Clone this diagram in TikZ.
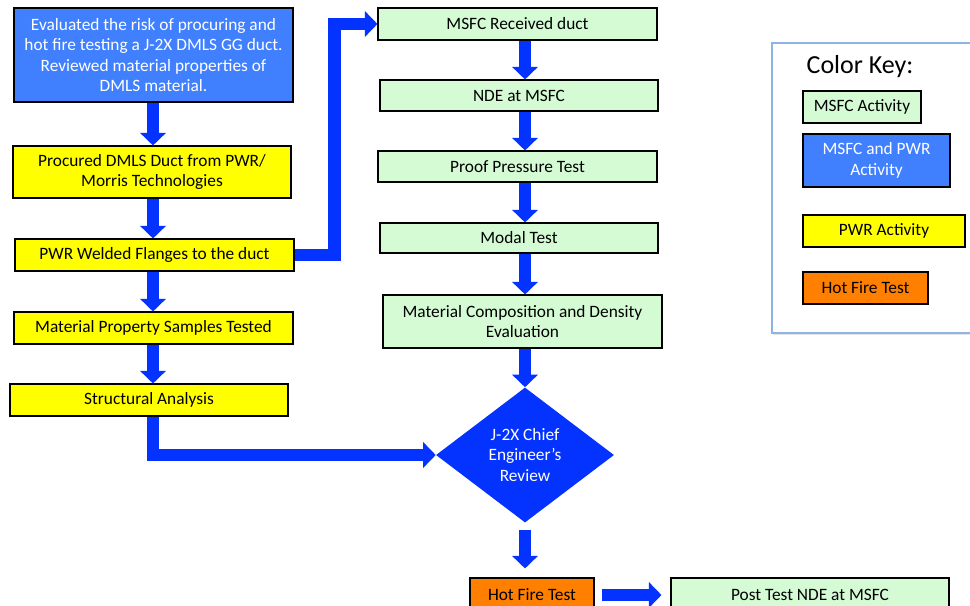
\documentclass[tikz,border=0pt]{standalone}
\usepackage{fontspec}
\setmainfont{Carlito}
\usetikzlibrary{arrows.meta, shapes.geometric, shadows}
\definecolor{msfcgreen}{RGB}{213,251,213}
\definecolor{pwryellow}{RGB}{255,255,0}
\definecolor{bothblue}{RGB}{64,128,255}
\definecolor{fireorange}{RGB}{255,128,0}
\definecolor{arrowblue}{RGB}{4,51,255}
\definecolor{keyframe}{RGB}{142,180,227}
\begin{document}
\begin{tikzpicture}[x=0.75pt, y=-0.75pt,
  box/.style={rectangle, draw, line width=0.8pt, align=center, inner sep=1pt, font=\fontsize{13}{15.4}\selectfont},
  msfc/.style={box, fill=msfcgreen},
  pwr/.style={box, fill=pwryellow},
  both/.style={box, fill=bothblue, text=white},
  fire/.style={box, fill=fireorange},
  arr/.style={draw=arrowblue, line width=9.5pt, -{Triangle[width=19pt, length=9.5pt]}}]
  \clip (0,0) rectangle (970,606);
  \fill[white] (0,0) rectangle (970,606);
  \coordinate (lcol) at (153,0);
  \coordinate (rcol) at (525,0);
  % left column
  \node[both, minimum width=209.25pt, minimum height=70.5pt] (eval) at (153.5,55)
    {Evaluated the risk of procuring and\\hot fire testing a J-2X DMLS GG duct.\\Reviewed material properties of\\DMLS material.};
  \node[pwr, minimum width=208.5pt, minimum height=39pt] (proc) at (152,172)
    {Procured DMLS Duct from PWR/\\Morris Technologies};
  \node[pwr, minimum width=209.25pt, minimum height=24pt] (weld) at (154.5,255) {PWR Welded Flanges to the duct};
  \node[pwr, minimum width=209.25pt, minimum height=24pt] (samp) at (153.5,328) {Material Property Samples Tested};
  \node[pwr, minimum width=208.5pt, minimum height=24pt] (struc) at (149,400) {Structural Analysis};
  % right column
  \node[msfc, minimum width=209.25pt, minimum height=24pt] (recv) at (517.5,24) {MSFC Received duct};
  \node[msfc, minimum width=208.5pt, minimum height=23.25pt] (nde) at (519,95.5) {NDE at MSFC};
  \node[msfc, minimum width=209.25pt, minimum height=23.25pt] (proof) at (517.5,166.5) {Proof Pressure Test};
  \node[msfc, minimum width=208.5pt, minimum height=22.5pt] (modal) at (519,238) {Modal Test};
  \node[msfc, minimum width=209.25pt, minimum height=39.75pt] (comp) at (522.5,321.5)
    {Material Composition and Density\\Evaluation};
  \node[diamond, fill=arrowblue, text=white, inner sep=0pt, align=center, font=\fontsize{13}{15.4}\selectfont,
    minimum width=133.5pt, minimum height=101.25pt] (review) at (525,455) {J-2X Chief\\Engineer’s\\Review};
  \node[fire, minimum width=93pt, minimum height=25.5pt] (hot) at (532,595) {Hot Fire Test};
  \node[msfc, minimum width=208.5pt, minimum height=25.5pt] (post) at (810,595) {Post Test NDE at MSFC};
  % color key
  \draw[draw=keyframe, line width=0.8pt, fill=white, drop shadow={opacity=0.2, shadow xshift=1pt, shadow yshift=-1.5pt}]
    (772,43) rectangle (990,333);
  \node[font=\fontsize{19.5}{22}\selectfont] (keytitle) at (860,67) {Color Key:};
  \node[msfc, minimum width=88.5pt, minimum height=24pt] (kmsfc) at (862,107) {MSFC Activity};
  \node[both, minimum width=110.25pt, minimum height=39.75pt] (kboth) at (876.5,160.5) {MSFC and PWR\\Activity};
  \node[pwr, minimum width=121.5pt, minimum height=24pt] (kpwr) at (884,231) {PWR Activity};
  \node[fire, minimum width=93.75pt, minimum height=24pt] (khot) at (865.5,288) {Hot Fire Test};
  % arrows
  \draw[arr] (eval.south -| lcol) -- (proc.north -| lcol);
  \draw[arr] (proc.south -| lcol) -- (weld.north -| lcol);
  \draw[arr] (weld.south -| lcol) -- (samp.north -| lcol);
  \draw[arr] (samp.south -| lcol) -- (struc.north -| lcol);
  \draw[arr] (weld.east) -- ++(40,0) |- (recv.west);
  \draw[arr] (recv.south -| rcol) -- (nde.north -| rcol);
  \draw[arr] (nde.south -| rcol) -- (proof.north -| rcol);
  \draw[arr] (proof.south -| rcol) -- (modal.north -| rcol);
  \draw[arr] (modal.south -| rcol) -- (comp.north -| rcol);
  \draw[arr] (comp.south -| rcol) -- (review.north);
  \draw[arr] (struc.south -| lcol) |- (review.west);
  \draw[arr, shorten <=5.25pt, shorten >=6.75pt] (review.south) -- (review.south |- hot.north);
  \draw[arr, shorten <=5.25pt, shorten >=6.75pt] (hot.east) -- (post.west);
\end{tikzpicture}
\end{document}
